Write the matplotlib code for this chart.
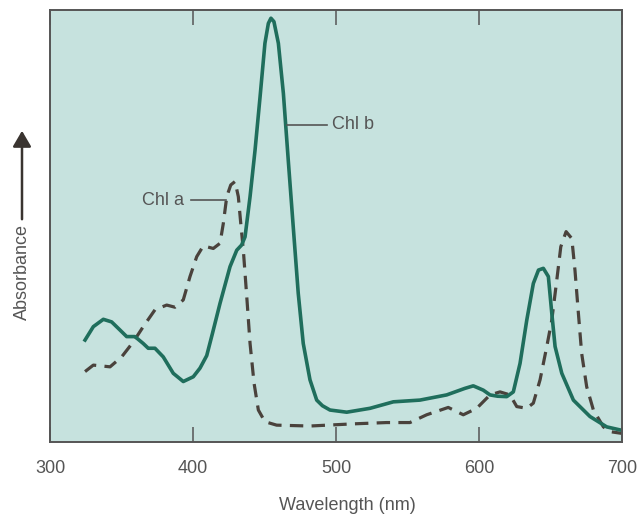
import matplotlib
matplotlib.use("Agg")
import matplotlib.pyplot as plt

# Chl b (solid) wavelength (nm) and relative absorbance
chlb_nm = [324.5, 330.3, 337.3, 343.1, 349.0, 353.6, 359.4, 365.2, 368.7, 373.4, 379.2, 386.2, 393.2,
           400.2, 404.9, 409.6, 413.5, 418.9, 425.9, 430.6, 434.0, 436.4, 439.9, 443.4, 446.9, 450.3,
           452.7, 454.5, 456.6, 459.7, 463.2, 466.6, 470.1, 473.6, 477.1, 481.8, 486.5, 490.5, 495.8,
           507.5, 523.8, 540.1, 558.7, 577.4, 590.0, 596.0, 603.0, 607.7, 613.0, 619.4, 624.0, 628.7,
           633.4, 638.0, 641.6, 645.0, 648.5, 650.9, 653.2, 657.9, 666.0, 677.6, 689.3, 698.6]
chlb_abs = [0.236, 0.267, 0.284, 0.278, 0.259, 0.244, 0.244, 0.228, 0.217, 0.217, 0.197, 0.159, 0.140,
            0.151, 0.171, 0.200, 0.250, 0.321, 0.406, 0.444, 0.456, 0.475, 0.568, 0.676, 0.799, 0.923,
            0.969, 0.981, 0.973, 0.923, 0.807, 0.653, 0.498, 0.344, 0.228, 0.144, 0.097, 0.084, 0.074,
            0.069, 0.078, 0.093, 0.097, 0.109, 0.124, 0.130, 0.120, 0.109, 0.106, 0.105, 0.116, 0.182,
            0.282, 0.367, 0.398, 0.402, 0.383, 0.298, 0.221, 0.159, 0.097, 0.059, 0.035, 0.028]

# Chl a (dashed)
chla_nm = [324.5, 330.3, 342.0, 350.1, 358.3, 365.2, 373.4, 381.6, 387.4, 393.2, 397.9, 402.6, 407.2,
           414.2, 418.9, 421.2, 423.6, 426.4, 429.4, 431.7, 433.4, 435.2, 437.6, 439.9, 442.7, 445.7,
           450.3, 458.5, 481.8, 512.1, 535.4, 551.7, 563.4, 578.5, 589.0, 598.4, 607.7, 614.7, 621.7,
           626.4, 633.4, 638.0, 642.7, 647.4, 650.9, 654.4, 657.2, 660.9, 664.9, 667.1, 669.5, 671.8,
           675.3, 680.0, 687.0, 691.6, 699.8]
chla_abs = [0.163, 0.178, 0.174, 0.197, 0.232, 0.267, 0.306, 0.317, 0.312, 0.329, 0.383, 0.429, 0.454,
            0.448, 0.460, 0.506, 0.568, 0.595, 0.603, 0.568, 0.506, 0.444, 0.336, 0.228, 0.136, 0.074,
            0.047, 0.039, 0.037, 0.042, 0.045, 0.045, 0.063, 0.080, 0.063, 0.078, 0.109, 0.116, 0.109,
            0.082, 0.078, 0.090, 0.144, 0.221, 0.282, 0.375, 0.452, 0.487, 0.471, 0.398, 0.298, 0.205,
            0.128, 0.074, 0.035, 0.024, 0.020]

xticks = [300, 400, 500, 600, 700]

bg = "#c6e2de"
teal = "#1f6e5c"
dark = "#4a423c"
textc = "#555555"
font = "Liberation Sans"
fs = 13

fig = plt.figure(figsize=(6.39, 5.15), dpi=100)
fig.patch.set_facecolor("white")
ax = fig.add_axes([50/639, 1-442/515, 572/639, 432/515])
ax.set_facecolor(bg)

ax.plot(chla_nm, chla_abs, color=dark, lw=2.3, dashes=(4.2, 2.6), solid_capstyle="butt")
ax.plot(chlb_nm, chlb_abs, color=teal, lw=2.6, solid_joinstyle="round")

ax.set_xlim(300, 700)
ax.set_ylim(0, 1)
ax.set_xticks(xticks)
ax.set_xticklabels([str(t) for t in xticks], fontsize=fs, color=textc, family=font)
ax.set_yticks([])
ax.tick_params(axis="x", direction="in", top=True, bottom=True, length=11, width=1.1,
               color="#555555", pad=13)
for s in ax.spines.values():
    s.set_color("#555555")
    s.set_linewidth(1.4)

# annotations
ax.plot([398.3, 423.0], [0.560, 0.560], color=textc, lw=1.2)
ax.text(394, 0.560, "Chl a", ha="right", va="center", fontsize=fs, color=textc, family=font)
ax.plot([466.0, 493.5], [0.734, 0.734], color=textc, lw=1.2)
ax.text(497.5, 0.734, "Chl b", ha="left", va="center", fontsize=fs, color=textc, family=font)

fig.text(347/639, 1-506/515, "Wavelength (nm)", ha="center", va="center", fontsize=fs,
         color=textc, family=font)
fig.text(22/639, 1-272/515, "Absorbance", ha="center", va="center", rotation=90, fontsize=fs,
         color=textc, family=font)
fig.add_artist(matplotlib.patches.FancyArrowPatch((22/639, 1-222/515), (22/639, 1-128/515),
               transform=fig.transFigure, arrowstyle="-|>,head_length=6,head_width=3.5",
               color="#3a3430", lw=1.8, mutation_scale=1.6))

fig.savefig("out.png", dpi=100)
